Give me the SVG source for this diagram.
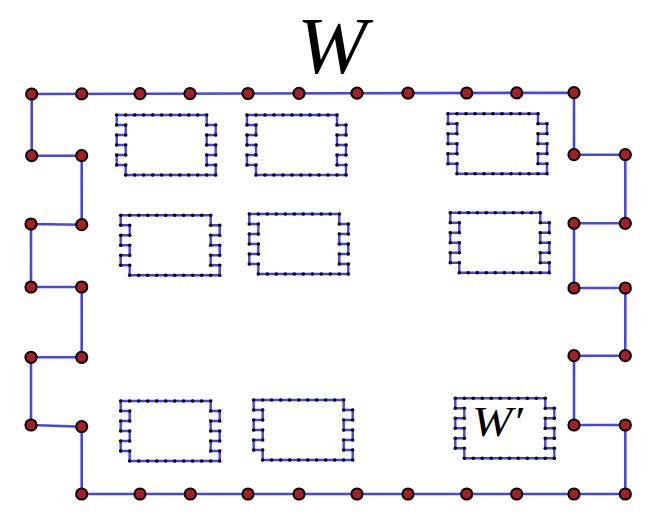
<svg xmlns="http://www.w3.org/2000/svg" xmlns:xlink="http://www.w3.org/1999/xlink" width="655" height="523" viewBox="0 0 655 523">
<style>
.edge{fill:none;stroke:#4646e6;stroke-width:2.6;stroke-linejoin:miter}
.node{fill:#a81e22;stroke:#000;stroke-width:2}
.inner{fill:none;stroke:#4646e6;stroke-width:2.4}
.dot{fill:#000}
.lbl{font-family:"Liberation Serif","Times New Roman",serif;font-style:italic;fill:#000}
</style>
<defs>
<g id="cell">
<polygon class="inner" points="0,0 90,0 90,10 99,10 99,20 90,20 90,30 99,30 99,40 90,40 90,50 99,50 99,60 9,60 9,50 0,50 0,40 9,40 9,30 0,30 0,20 9,20 9,10 0,10"/>
<g class="dot">
<circle cx="0" cy="0" r="1.8"/><circle cx="9" cy="0" r="1.8"/><circle cx="18" cy="0" r="1.8"/><circle cx="27" cy="0" r="1.8"/><circle cx="36" cy="0" r="1.8"/><circle cx="45" cy="0" r="1.8"/><circle cx="54" cy="0" r="1.8"/><circle cx="63" cy="0" r="1.8"/><circle cx="72" cy="0" r="1.8"/><circle cx="81" cy="0" r="1.8"/><circle cx="90" cy="0" r="1.8"/>
<circle cx="9" cy="60" r="1.8"/><circle cx="18" cy="60" r="1.8"/><circle cx="27" cy="60" r="1.8"/><circle cx="36" cy="60" r="1.8"/><circle cx="45" cy="60" r="1.8"/><circle cx="54" cy="60" r="1.8"/><circle cx="63" cy="60" r="1.8"/><circle cx="72" cy="60" r="1.8"/><circle cx="81" cy="60" r="1.8"/><circle cx="90" cy="60" r="1.8"/><circle cx="99" cy="60" r="1.8"/>
<circle cx="0" cy="10" r="1.8"/><circle cx="9" cy="10" r="1.8"/><circle cx="9" cy="20" r="1.8"/><circle cx="0" cy="20" r="1.8"/><circle cx="0" cy="30" r="1.8"/><circle cx="9" cy="30" r="1.8"/><circle cx="9" cy="40" r="1.8"/><circle cx="0" cy="40" r="1.8"/><circle cx="0" cy="50" r="1.8"/><circle cx="9" cy="50" r="1.8"/>
<circle cx="90" cy="10" r="1.8"/><circle cx="99" cy="10" r="1.8"/><circle cx="99" cy="20" r="1.8"/><circle cx="90" cy="20" r="1.8"/><circle cx="90" cy="30" r="1.8"/><circle cx="99" cy="30" r="1.8"/><circle cx="99" cy="40" r="1.8"/><circle cx="90" cy="40" r="1.8"/><circle cx="90" cy="50" r="1.8"/><circle cx="99" cy="50" r="1.8"/>
</g>
</g>
</defs>
<rect width="655" height="523" fill="#fff"/>

<g id="connectors">
<polygon class="edge" points="31.7,94 574,92.7 574,154.7 625.3,154.7 625.3,223.3 574,223.3 574,288 625.3,288 625.3,355.7 574,355.7 574,425 625.3,425 625.3,494 81.7,494 81.7,426.7 31,425 31,357.3 81.7,357.3 81.7,287 31,287 31,224 81.7,224.7 81.7,155.7 31.7,155.7"/>
</g>

<g id="cells">
<g id="cellA"><use xlink:href="#cell" transform="translate(116.7,115)"/></g>
<g id="cellB"><use xlink:href="#cell" transform="translate(247,115)"/></g>
<g id="cellC"><use xlink:href="#cell" transform="translate(448,113.7)"/></g>
<g id="cellD"><use xlink:href="#cell" transform="translate(120.7,215.3)"/></g>
<g id="cellE"><use xlink:href="#cell" transform="translate(249.3,214)"/></g>
<g id="cellF"><use xlink:href="#cell" transform="translate(450.3,212.7)"/></g>
<g id="cellG"><use xlink:href="#cell" transform="translate(120.7,401)"/></g>
<g id="cellH"><use xlink:href="#cell" transform="translate(253.7,400)"/></g>
<g id="cellI"><use xlink:href="#cell" transform="translate(455.3,398.3)"/></g>
</g>

<g id="nodes">
<g id="t1"><circle class="node" cx="31.7" cy="94" r="5.6"/></g>
<g id="t2"><circle class="node" cx="81.7" cy="93.9" r="5.6"/></g>
<g id="t3"><circle class="node" cx="140" cy="93.7" r="5.6"/></g>
<g id="t4"><circle class="node" cx="190" cy="93.6" r="5.6"/></g>
<g id="t5"><circle class="node" cx="248" cy="93.5" r="5.6"/></g>
<g id="t6"><circle class="node" cx="299" cy="93.4" r="5.6"/></g>
<g id="t7"><circle class="node" cx="357" cy="93.2" r="5.6"/></g>
<g id="t8"><circle class="node" cx="408" cy="93.1" r="5.6"/></g>
<g id="t9"><circle class="node" cx="466.7" cy="93" r="5.6"/></g>
<g id="t10"><circle class="node" cx="516.7" cy="92.9" r="5.6"/></g>
<g id="t11"><circle class="node" cx="574" cy="92.7" r="5.6"/></g>

<g id="r1"><circle class="node" cx="574" cy="154.7" r="5.6"/></g>
<g id="r2"><circle class="node" cx="625.3" cy="154.7" r="5.6"/></g>
<g id="r3"><circle class="node" cx="625.3" cy="223.3" r="5.6"/></g>
<g id="r4"><circle class="node" cx="574" cy="223.3" r="5.6"/></g>
<g id="r5"><circle class="node" cx="574" cy="288" r="5.6"/></g>
<g id="r6"><circle class="node" cx="625.3" cy="288" r="5.6"/></g>
<g id="r7"><circle class="node" cx="625.3" cy="355.7" r="5.6"/></g>
<g id="r8"><circle class="node" cx="574" cy="355.7" r="5.6"/></g>
<g id="r9"><circle class="node" cx="574" cy="425" r="5.6"/></g>
<g id="r10"><circle class="node" cx="625.3" cy="425" r="5.6"/></g>

<g id="b1"><circle class="node" cx="625.3" cy="494" r="5.6"/></g>
<g id="b2"><circle class="node" cx="574" cy="494" r="5.6"/></g>
<g id="b3"><circle class="node" cx="516.7" cy="494" r="5.6"/></g>
<g id="b4"><circle class="node" cx="466.7" cy="494" r="5.6"/></g>
<g id="b5"><circle class="node" cx="408" cy="494" r="5.6"/></g>
<g id="b6"><circle class="node" cx="357" cy="494" r="5.6"/></g>
<g id="b7"><circle class="node" cx="299" cy="494" r="5.6"/></g>
<g id="b8"><circle class="node" cx="248" cy="494" r="5.6"/></g>
<g id="b9"><circle class="node" cx="190.3" cy="494" r="5.6"/></g>
<g id="b10"><circle class="node" cx="140" cy="494" r="5.6"/></g>
<g id="b11"><circle class="node" cx="81.7" cy="494" r="5.6"/></g>

<g id="l1"><circle class="node" cx="81.7" cy="426.7" r="5.6"/></g>
<g id="l2"><circle class="node" cx="31" cy="425" r="5.6"/></g>
<g id="l3"><circle class="node" cx="31" cy="357.3" r="5.6"/></g>
<g id="l4"><circle class="node" cx="81.7" cy="357.3" r="5.6"/></g>
<g id="l5"><circle class="node" cx="81.7" cy="287" r="5.6"/></g>
<g id="l6"><circle class="node" cx="31" cy="287" r="5.6"/></g>
<g id="l7"><circle class="node" cx="31" cy="224" r="5.6"/></g>
<g id="l8"><circle class="node" cx="81.7" cy="224.7" r="5.6"/></g>
<g id="l9"><circle class="node" cx="81.7" cy="155.7" r="5.6"/></g>
<g id="l10"><circle class="node" cx="31.7" cy="155.7" r="5.6"/></g>
</g>

<g id="labels">
<text class="lbl" font-size="80" text-anchor="middle" transform="translate(332,73) scale(1.05,1)">W</text>
<text class="lbl" font-size="42" transform="translate(472,436) scale(1.15,1)">W′</text>
</g>
</svg>
